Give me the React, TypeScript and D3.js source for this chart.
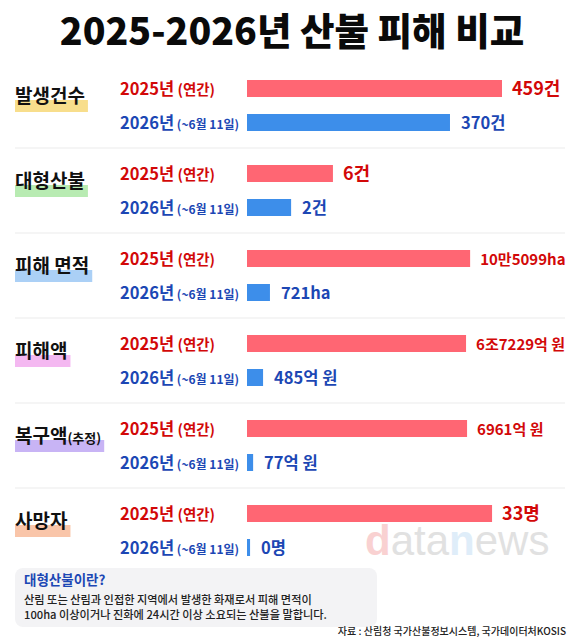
import React, { useEffect, useRef } from 'react';
import * as d3 from 'd3';

const categories = ['발생건수', '대형산불', '피해 면적', '피해액', '복구액', '사망자'];
const categorySuffix = ['', '', '', '', '(추정)', ''];
const highlightColors = ['#f8de8c', '#b8ebb2', '#abd0f6', '#f4b8f1', '#c8b4f5', '#f9c5a9'];
const rowLabels = [
  { main: '2025년', sub: ' (연간)' },
  { main: '2026년', sub: ' (~6월 11일)' },
];
const label2025 = ['459건', '6건', '10만5099ha', '6조7229억 원', '6961억 원', '33명'];
const label2026 = ['370건', '2건', '721ha', '485억 원', '77억 원', '0명'];
// bar lengths, in percent of the longest bar
const bar2025 = [100, 33.7, 87.5, 85.9, 86.3, 96.1];
const bar2026 = [79.6, 17.3, 9.0, 6.3, 2.4, 1.2];
const noteTitle = '대형산불이란?';
const noteLines = [
  '산림 또는 산림과 인접한 지역에서 발생한 화재로서 피해 면적이',
  '100ha 이상이거나 진화에 24시간 이상 소요되는 산불을 말합니다.',
];
const sourceText = '자료 : 산림청 국가산불정보시스템, 국가데이터처KOSIS';
const titleText = '2025-2026년 산불 피해 비교';

const W = 580;
const H = 639;
const FONT = "'Noto Sans CJK KR', 'Noto Sans', sans-serif";
const RED_BAR = '#ff6673';
const BLUE_BAR = '#3d8eea';
const RED_TXT = '#d20808';
const BLUE_TXT = '#1c47b4';

export default function App() {
  const ref = useRef<SVGSVGElement>(null);

  useEffect(() => {
    document.body.style.margin = '0';
    const svg = d3.select(ref.current);
    svg.selectAll('*').remove();
    svg.append('rect').attr('width', W).attr('height', H).attr('fill', '#fff');

    // title
    svg.append('text')
      .attr('x', 292).attr('y', 45)
      .attr('text-anchor', 'middle')
      .attr('font-family', FONT).attr('font-weight', 900).attr('font-size', 37.5)
      .attr('fill', '#0a0a0a')
      .text(titleText);

    const yBand = d3.scaleBand<string>().domain(categories).range([63, 63 + 85 * categories.length]);
    const x = d3.scaleLinear().domain([0, 100]).range([0, 255]);
    const barX = 247;
    const barH = 17;

    // separators
    categories.slice(1).forEach((c) => {
      svg.append('line')
        .attr('x1', 15).attr('x2', 565)
        .attr('y1', yBand(c)!).attr('y2', yBand(c)!)
        .attr('stroke', '#ebebeb').attr('stroke-width', 1.2);
    });

    // watermark (behind labels)
    const wm = svg.append('text')
      .attr('x', 365).attr('y', 555)
      .attr('font-family', "'Liberation Sans', Arial, sans-serif")
      .attr('font-size', 42)
      .attr('opacity', 0.45);
    wm.append('tspan').attr('font-weight', 700).attr('fill', '#f29a9a').text('d');
    wm.append('tspan').attr('fill', '#bdbdbd').text('ata');
    wm.append('tspan').attr('font-weight', 700).attr('fill', '#b9d8f3').text('n');
    wm.append('tspan').attr('fill', '#bdbdbd').text('ews');

    categories.forEach((c, i) => {
      const y0 = yBand(c)!;
      const g = svg.append('g');
      // category label with highlight
      const hl = g.append('rect');
      const t = g.append('text')
        .attr('x', 15).attr('y', y0 + 40)
        .attr('font-family', FONT).attr('font-weight', 700).attr('font-size', 19)
        .attr('fill', '#111');
      t.append('tspan').text(c);
      if (categorySuffix[i]) {
        t.append('tspan').attr('font-size', 13).attr('font-weight', 600).text(categorySuffix[i]);
      }
      const tw = (t.node() as SVGTextElement).getComputedTextLength();
      hl.attr('x', 15).attr('y', y0 + 37).attr('width', tw + 3).attr('height', 12)
        .attr('fill', highlightColors[i]);

      // row labels
      rowLabels.forEach((rl, r) => {
        const ty = y0 + (r === 0 ? 32 : 66);
        const rt = g.append('text')
          .attr('x', 120).attr('y', ty)
          .attr('font-family', FONT).attr('font-weight', 700)
          .attr('fill', r === 0 ? RED_TXT : BLUE_TXT);
        rt.append('tspan').attr('font-size', 16.5).text(rl.main);
        rt.append('tspan').attr('font-size', r === 0 ? 14.5 : 12).text(rl.sub);
      });

      // bars
      const w25 = x(bar2025[i]);
      const w26 = x(bar2026[i]);
      g.append('rect').attr('x', barX).attr('y', y0 + 17).attr('width', w25).attr('height', barH)
        .attr('fill', RED_BAR);
      g.append('rect').attr('x', barX).attr('y', y0 + 51).attr('width', w26).attr('height', barH)
        .attr('fill', BLUE_BAR);

      const long = label2025[i].length > 5;
      g.append('text')
        .attr('x', barX + w25 + 10).attr('y', y0 + 32)
        .attr('font-family', FONT).attr('font-weight', 700)
        .attr('font-size', long ? 15 : 18)
        .attr('fill', RED_TXT)
        .text(label2025[i]);
      g.append('text')
        .attr('x', barX + w26 + 11).attr('y', y0 + 66)
        .attr('font-family', FONT).attr('font-weight', 700)
        .attr('font-size', 16.5)
        .attr('fill', BLUE_TXT)
        .text(label2026[i]);
    });

    // note box
    svg.append('rect')
      .attr('x', 15).attr('y', 568).attr('width', 362).attr('height', 59)
      .attr('rx', 8).attr('fill', '#f3f3f5');
    svg.append('text')
      .attr('x', 24).attr('y', 585)
      .attr('font-family', FONT).attr('font-weight', 700).attr('font-size', 13.5)
      .attr('fill', BLUE_TXT)
      .text(noteTitle);
    noteLines.forEach((l, k) => {
      svg.append('text')
        .attr('x', 24).attr('y', 604 + k * 15)
        .attr('font-family', FONT).attr('font-weight', 500).attr('font-size', 11.2)
        .attr('fill', '#222')
        .text(l);
    });
    svg.append('text')
      .attr('x', 566).attr('y', 635)
      .attr('text-anchor', 'end')
      .attr('font-family', FONT).attr('font-weight', 500).attr('font-size', 10)
      .attr('fill', '#222')
      .text(sourceText);
  }, []);

  return <svg ref={ref} width={W} height={H} style={{ display: 'block' }} />;
}
